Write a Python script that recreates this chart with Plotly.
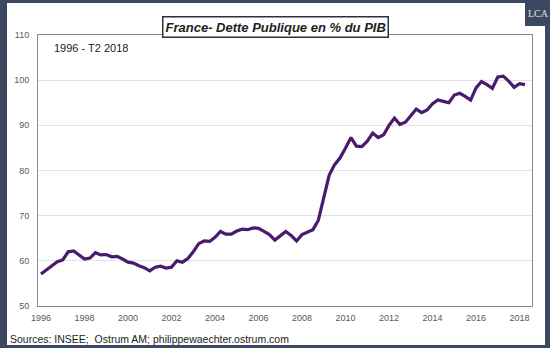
import plotly.graph_objects as go

# Quarterly data 1996 T1 - 2018 T2
start_year = 1996
debt = [57.1, 58.0, 58.9, 59.8, 60.2, 62.0, 62.2, 61.3, 60.4, 60.6,
        61.8, 61.3, 61.4, 60.9, 61.0, 60.4, 59.7, 59.5, 58.9, 58.5,
        57.8, 58.6, 58.8, 58.4, 58.6, 60.0, 59.7, 60.5, 62.0, 63.8,
        64.4, 64.3, 65.2, 66.5, 65.9, 65.9, 66.6, 67.0, 66.9, 67.3,
        67.2, 66.5, 65.8, 64.6, 65.6, 66.5, 65.6, 64.4, 65.8, 66.4,
        66.9, 69.0, 74.0, 79.0, 81.3, 82.8, 85.0, 87.3, 85.4, 85.3,
        86.5, 88.3, 87.3, 87.9, 90.0, 91.6, 90.2, 90.7, 92.1, 93.6,
        92.8, 93.4, 94.8, 95.6, 95.3, 95.0, 96.7, 97.1, 96.4, 95.6,
        98.3, 99.7, 99.0, 98.2, 100.7, 100.9, 99.8, 98.4, 99.2, 99.0]
x_years = [start_year + i / 4 for i in range(len(debt))]
x_ticks = list(range(1996, 2019, 2))
y_ticks = [50, 60, 70, 80, 90, 100, 110]

title = "France- Dette Publique en % du PIB"
subtitle = "1996 - T2 2018"
source = "Sources: INSEE;  Ostrum AM; philippewaechter.ostrum.com"

W, H = 550, 348
L, R, T, B = 38, 532, 35, 306
pw, ph = R - L, B - T

def px(x):
    return (x - L) / pw

def py(y):
    return (B - y) / ph

fig = go.Figure()
fig.add_trace(go.Scatter(x=x_years, y=debt, mode="lines",
                         line=dict(color="#4a1a6c", width=3.2),
                         hoverinfo="skip"))

navy = "#3b4861"
shapes = [
    dict(type="rect", xref="paper", yref="paper", layer="below",
         x0=px(7), x1=px(545), y0=py(345), y1=py(3),
         fillcolor="white", line=dict(width=0)),
    dict(type="rect", xref="paper", yref="paper", layer="above",
         x0=px(525), x1=px(551), y0=py(26), y1=py(-1),
         fillcolor=navy, line=dict(width=0)),
]

annotations = [
    dict(text="<b><i>" + title + "</i></b>", xref="paper", yref="paper",
         x=px(275), y=py(16), showarrow=False,
         font=dict(family="Liberation Sans, Arial", size=13, color="#222222"),
         bordercolor="#2a3142", borderwidth=1.5, borderpad=2, bgcolor="white"),
    dict(text=subtitle, xref="paper", yref="paper", x=px(52), y=py(48),
         xanchor="left", yanchor="middle", showarrow=False,
         font=dict(family="Liberation Sans, Arial", size=11, color="#222222")),
    dict(text=source, xref="paper", yref="paper", x=px(8), y=py(339),
         xanchor="left", yanchor="middle", showarrow=False,
         font=dict(family="Liberation Sans, Arial", size=10.5, color="#222222")),
    dict(text="LCA", xref="paper", yref="paper", x=px(538), y=py(14),
         xanchor="center", yanchor="middle", showarrow=False,
         font=dict(family="Liberation Serif, serif", size=10, color="#e9e4d6")),
]

fig.update_layout(
    width=W, height=H,
    margin=dict(l=L, r=W - R, t=T, b=H - B),
    paper_bgcolor=navy, plot_bgcolor="white",
    showlegend=False,
    shapes=shapes, annotations=annotations,
    xaxis=dict(range=[1995.862, 2018.572], tickvals=x_ticks,
               ticktext=[str(v) for v in x_ticks],
               showgrid=False, zeroline=False,
               showline=True, linecolor="#8a8a8a", linewidth=1, mirror=True,
               ticks="", ticklabelstandoff=3,
               tickfont=dict(family="Liberation Sans, Arial", size=9, color="#595959")),
    yaxis=dict(range=[50, 110], tickvals=y_ticks,
               showgrid=True, gridcolor="#e3e3e3", gridwidth=1, zeroline=False,
               showline=True, linecolor="#8a8a8a", linewidth=1, mirror=True,
               ticks="", ticklabelstandoff=6,
               tickfont=dict(family="Liberation Sans, Arial", size=9, color="#595959")),
)

fig.write_html("out.html")
